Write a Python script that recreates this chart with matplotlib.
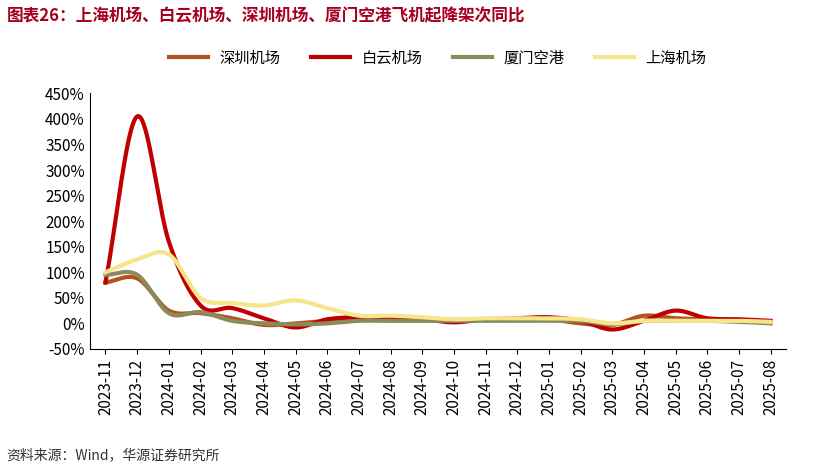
import numpy as np
import matplotlib
matplotlib.use("Agg")
import matplotlib.pyplot as plt

plt.rcParams['font.family'] = ['Noto Sans CJK SC', 'DejaVu Sans']

months = ["2023-11","2023-12","2024-01","2024-02","2024-03","2024-04","2024-05","2024-06",
          "2024-07","2024-08","2024-09","2024-10","2024-11","2024-12","2025-01","2025-02",
          "2025-03","2025-04","2025-05","2025-06","2025-07","2025-08"]
shenzhen = [80, 88, 25, 20, 10, -3, 0, 5, 10, 10, 8, 5, 8, 8, 8, 0, -3, 15, 10, 8, 5, 3]
baiyun = [80, 405, 160, 35, 30, 10, -8, 8, 12, 10, 8, 2, 8, 10, 12, 5, -12, 5, 25, 10, 8, 5]
xiamen = [95, 95, 20, 22, 5, 0, -2, 0, 5, 5, 5, 5, 5, 5, 5, 5, -2, 5, 5, 5, 3, 0]
shanghai = [100, 125, 135, 50, 40, 35, 45, 30, 15, 15, 12, 8, 10, 10, 10, 8, 0, 5, 5, 5, 5, 3]

def smooth(y, n=20):
    y = np.asarray(y, float)
    p = np.concatenate([[2*y[0]-y[1]], y, [2*y[-1]-y[-2]]])
    xs, ys = [], []
    for i in range(1, len(p)-2):
        t = np.linspace(0, 1, n, endpoint=False)
        p0, p1, p2, p3 = p[i-1], p[i], p[i+1], p[i+2]
        v = 0.5*((2*p1) + (-p0+p2)*t + (2*p0-5*p1+4*p2-p3)*t**2 + (-p0+3*p1-3*p2+p3)*t**3)
        xs.append(i-1+t); ys.append(v)
    xs.append([len(y)-1]); ys.append([y[-1]])
    return np.concatenate(xs), np.concatenate(ys)

fig = plt.figure(figsize=(8.15, 4.69), dpi=100)
ax = fig.add_axes([0.11, 0.256, 0.855, 0.545])
for data, c, lab in [(shenzhen, '#B5521C', '深圳机场'), (baiyun, '#C00000', '白云机场'),
                     (xiamen, '#8B8B5A', '厦门空港'), (shanghai, '#F5E68C', '上海机场')]:
    xs, ys = smooth(data)
    ax.plot(xs, ys, color=c, lw=3, label=lab)
ax.set_xlim(-0.5, len(months)-0.5)
ax.set_ylim(-50, 450)
ax.set_yticks(range(-50, 451, 50))
ax.set_yticklabels([f"{v}%" for v in range(-50, 451, 50)], fontsize=11)
ax.set_xticks(range(len(months)))
ax.set_xticklabels(months, rotation=90, fontsize=11)
for s in ['top', 'right']:
    ax.spines[s].set_visible(False)
ax.tick_params(length=0, axis='y')
ax.legend(loc='lower center', bbox_to_anchor=(0.5, 1.05), ncol=4, frameon=False, fontsize=11,
          handlelength=2.5)
fig.text(0.008, 0.965, "图表26：上海机场、白云机场、深圳机场、厦门空港飞机起降架次同比",
         fontsize=12, fontweight='bold', color='#A50021', va='center')
fig.text(0.008, 0.03, "资料来源：Wind，华源证券研究所", fontsize=10, color='#333333', va='center')
fig.savefig("out.png", dpi=100)
